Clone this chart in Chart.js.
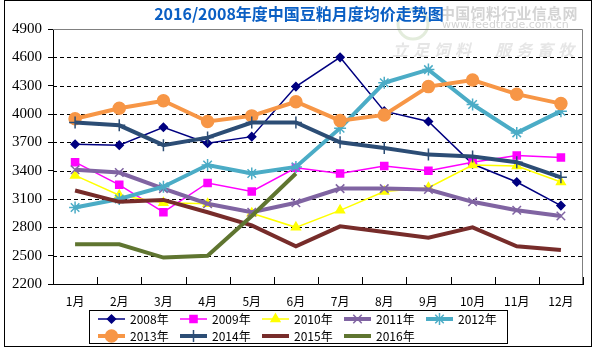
<!DOCTYPE html>
<html>
<head>
<meta charset="utf-8">
<script src="https://cdn.jsdelivr.net/npm/chart.js@4.4.1/dist/chart.umd.min.js"></script>
<style>
	html, body { margin: 0; padding: 0; background: #fff; }
	#wrap { width: 594px; height: 352px; }
</style>
</head>
<body>
<div id="wrap"><canvas id="myChart" width="594" height="352"></canvas></div>
<script>
const months = ['1月', '2月', '3月', '4月', '5月', '6月', '7月', '8月', '9月', '10月', '11月', '12月']
const yTicks = [2200, 2500, 2800, 3100, 3400, 3700, 4000, 4300, 4600, 4900]

const y2008 = [3680, 3670, 3860, 3690, 3760, 4290, 4600, 4030, 3920, 3470, 3280, 3030]
const y2009 = [3490, 3250, 2960, 3270, 3180, 3430, 3370, 3450, 3400, 3490, 3560, 3540]
const y2010 = [3350, 3140, 3060, 3050, 2950, 2800, 2980, 3180, 3220, 3460, 3450, 3280]
const y2011 = [3410, 3380, 3210, 3050, 2960, 3060, 3210, 3210, 3200, 3070, 2980, 2920]
const y2012 = [3010, 3100, 3230, 3460, 3370, 3440, 3850, 4330, 4470, 4100, 3800, 4030]
const y2013 = [3950, 4060, 4140, 3920, 3980, 4130, 3930, 3990, 4290, 4360, 4210, 4110]
const y2014 = [3910, 3880, 3670, 3750, 3910, 3910, 3700, 3640, 3570, 3550, 3490, 3330]
const y2015 = [3190, 3070, 3090, 2960, 2820, 2600, 2810, 2750, 2690, 2800, 2600, 2560]
const y2016 = [2620, 2620, 2480, 2500, 2920, 3370, null, null, null, null, null, null]

const series = [
	{ label: '2008年', data: y2008, color: '#000080', width: 1.5, style: 'rectRot', r: 4 },
	{ label: '2009年', data: y2009, color: '#ff00ff', width: 1.5, style: 'rect', r: 5 },
	{ label: '2010年', data: y2010, color: '#ffff00', width: 1.5, style: 'triangle', r: 5 },
	{ label: '2011年', data: y2011, color: '#8064a2', width: 4, style: 'crossRot', r: 6 },
	{ label: '2012年', data: y2012, color: '#4bacc6', width: 4, style: 'star', r: 6 },
	{ label: '2013年', data: y2013, color: '#f79646', width: 4, style: 'circle', r: 6 },
	{ label: '2014年', data: y2014, color: '#2c4d75', width: 4, style: 'cross', r: 6 },
	{ label: '2015年', data: y2015, color: '#772c2a', width: 4, style: 'line', r: 3 },
	{ label: '2016年', data: y2016, color: '#5f7530', width: 4, style: 'line', r: 3 },
]

const spaced = (ctx, text, x, y, pitch) => {
	for (let i = 0; i < text.length; i++) ctx.fillText(text[i], x + i * pitch, y)
}

// frame, title, watermark, dashed grid, inner x ticks and legend box
const decorPlugin = {
	id: 'decor',
	beforeDraw(chart) {
		const ctx = chart.ctx
		ctx.save()
		ctx.fillStyle = '#fff'
		ctx.fillRect(0, 0, chart.width, chart.height)
		// watermark
		ctx.strokeStyle = '#e3ecdc'
		ctx.lineWidth = 3
		ctx.beginPath()
		ctx.arc(413, 24, 15, 0, Math.PI * 2)
		ctx.stroke()
		ctx.fillStyle = '#d4d4d4'
		ctx.font = 'bold 15px "Noto Sans CJK SC"'
		ctx.textAlign = 'left'
		ctx.textBaseline = 'middle'
		spaced(ctx, '中国饲料行业信息网', 440, 13, 15.3)
		ctx.font = '11px "DejaVu Sans"'
		ctx.fillText('www.feedtrade.com.cn', 442, 25)
		ctx.font = 'italic bold 16px "Noto Sans CJK SC"'
		ctx.fillStyle = '#e6e6e6'
		spaced(ctx, '立足饲料', 392, 50, 21)
		spaced(ctx, '服务畜牧', 495, 50, 21)
		ctx.restore()
	},
	beforeDatasetsDraw(chart) {
		const ctx = chart.ctx
		const y = chart.scales.y
		const area = chart.chartArea
		ctx.save()
		ctx.strokeStyle = '#000'
		ctx.lineWidth = 1
		ctx.setLineDash([4, 3])
		ctx.beginPath()
		yTicks.slice(1, -1).forEach((v) => {
			const py = Math.round(y.getPixelForValue(v)) + 0.5
			ctx.moveTo(area.left, py)
			ctx.lineTo(area.right, py)
		})
		ctx.stroke()
		ctx.setLineDash([])
		// plot area outline, top and right
		ctx.strokeStyle = '#808080'
		ctx.beginPath()
		ctx.moveTo(area.left, Math.round(area.top) + 0.5)
		ctx.lineTo(Math.round(area.right) - 0.5, Math.round(area.top) + 0.5)
		ctx.lineTo(Math.round(area.right) - 0.5, area.bottom)
		ctx.stroke()
		ctx.restore()
	},
	afterDraw(chart) {
		const ctx = chart.ctx
		const x = chart.scales.x
		const area = chart.chartArea
		ctx.save()
		// outer frame
		ctx.strokeStyle = '#000'
		ctx.lineWidth = 1
		ctx.strokeRect(4.5, 0.5, 587, 346)
		// x tick marks pointing up at category boundaries
		ctx.beginPath()
		for (let i = 0; i <= months.length; i++) {
			const px = Math.round(x.left + (i * x.width) / months.length) + 0.5
			ctx.moveTo(px, area.bottom)
			ctx.lineTo(px, area.bottom - 7)
		}
		ctx.stroke()
		// title
		ctx.fillStyle = '#0a5fc4'
		ctx.font = 'bold 16px "Noto Sans CJK SC"'
		ctx.textAlign = 'center'
		ctx.textBaseline = 'middle'
		ctx.fillText('2016/2008年度中国豆粕月度均价走势图', 299, 14)
		// legend
		ctx.strokeStyle = '#000'
		ctx.strokeRect(89.5, 310.5, 418, 33)
		ctx.font = '12px "Noto Sans CJK SC"'
		ctx.textAlign = 'left'
		chart.data.datasets.forEach((ds, i) => {
			const col = i % 5
			const row = Math.floor(i / 5)
			const lx = 98 + col * 82
			const ly = 319 + row * 17
			ctx.strokeStyle = ds.borderColor
			ctx.lineWidth = ds.borderWidth
			ctx.beginPath()
			ctx.moveTo(lx, ly)
			ctx.lineTo(lx + 27, ly)
			ctx.stroke()
			if (ds.pointStyle !== 'line') {
				ctx.fillStyle = ds.backgroundColor
				ctx.strokeStyle = ds.borderColor
				ctx.lineWidth = 1.5
				Chart.helpers.drawPoint(ctx, { pointStyle: ds.pointStyle, radius: ds.pointRadius, rotation: 0, borderWidth: 1.5 }, lx + 13.5, ly)
			}
			ctx.fillStyle = '#000'
			ctx.fillText(ds.label, lx + 32, ly)
		})
		ctx.restore()
	},
}

const ctx = document.getElementById('myChart').getContext('2d')
const myChart = new Chart(ctx, {
	type: 'line',
	data: {
		labels: months,
		datasets: series.map((s, i) => ({
			label: s.label,
			data: s.data,
			borderColor: s.color,
			backgroundColor: s.color,
			borderWidth: s.width,
			pointStyle: s.style,
			pointRadius: s.style === 'line' ? 0 : s.r,
			pointBorderWidth: 1.5,
			pointHoverRadius: s.r,
			tension: 0,
			spanGaps: false,
			order: series.length - i,
		})),
	},
	options: {
		responsive: false,
		animation: false,
		devicePixelRatio: 1,
		layout: {
			padding: { left: 0, right: 11, top: 29, bottom: 42 },
		},
		plugins: {
			legend: { display: false },
			title: { display: false },
			tooltip: { enabled: false },
		},
		scales: {
			x: {
				offset: true,
				afterFit: (s) => { s.height = 26 },
				grid: { display: false, drawTicks: false },
				border: { display: true, color: '#000', width: 1 },
				ticks: {
					padding: 10,
					color: '#000',
					maxRotation: 0,
					autoSkip: false,
					font: { family: '"Noto Sans CJK SC"', size: 12 },
				},
			},
			y: {
				min: 2200,
				max: 4900,
				afterFit: (s) => { s.width = 53 },
				afterBuildTicks: (s) => { s.ticks = yTicks.map((v) => ({ value: v })) },
				grid: {
					drawOnChartArea: false,
					tickColor: '#000',
					tickLength: 5,
					lineWidth: 1,
				},
				border: { display: true, color: '#000', width: 1 },
				ticks: {
					padding: 6,
					color: '#000',
					font: { family: '"Liberation Serif"', size: 15 },
					callback: (v) => String(v),
				},
			},
		},
	},
	plugins: [decorPlugin],
})
</script>
</body>
</html>
